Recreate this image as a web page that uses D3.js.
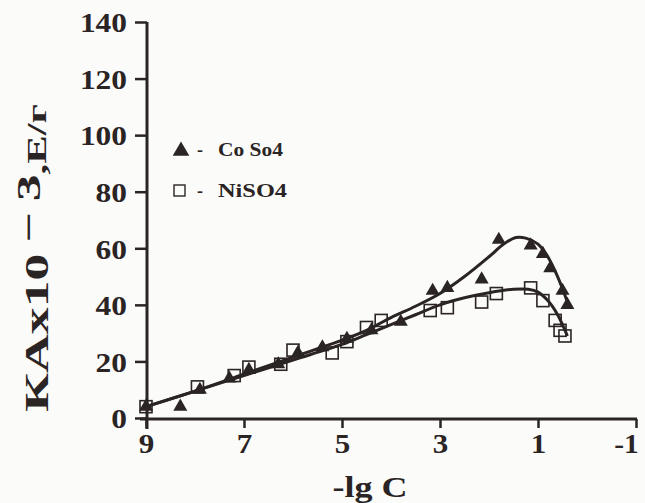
<!DOCTYPE html>
<html><head><meta charset="utf-8">
<script src="https://cdn.jsdelivr.net/npm/d3@7"></script>
<style>
html,body{margin:0;padding:0;background:#fbfbfa;}
svg{display:block;}
text{font-family:"Liberation Serif","Times New Roman",serif;font-weight:bold;fill:#2a2424;}
</style></head>
<body>
<svg id="chart" width="645" height="503"></svg>
<script>
// ---- data ----
const xTicks = [9, 7, 5, 3, 1, -1];
const yTicks = [0, 20, 40, 60, 80, 100, 120, 140];
const seriesNames = ["Co So4", "NiSO4"];

const coX = [9.0, 8.3, 7.9, 7.3, 6.9, 6.3, 5.9, 5.4, 4.9, 4.4, 3.8, 3.15, 2.85, 2.15, 1.8, 1.15, 0.9, 0.75, 0.5, 0.4];
const coY = [4, 4, 10, 14, 17, 19, 23, 25, 28, 31, 34, 45, 46, 49, 63, 61, 58, 53, 45, 40];

const niX = [9.0, 7.95, 7.2, 6.9, 6.25, 6.0, 5.2, 4.9, 4.5, 4.2, 3.2, 2.85, 2.15, 1.85, 1.15, 0.9, 0.65, 0.55, 0.45];
const niY = [4, 11, 15, 18, 19, 24, 23, 27, 32, 34.5, 38, 39, 41, 44, 46, 41.5, 34.5, 31, 29];

const coFitX = [9, 8, 7, 6, 5, 4.5, 4, 3.5, 3, 2.5, 2, 1.7, 1.45, 1.25, 1.0, 0.8, 0.6, 0.4];
const coFitY = [4, 9.5, 15.5, 21.5, 27.5, 31, 35.5, 39.5, 44, 50, 57, 61.5, 63.8, 63.6, 61.5, 57, 50, 41];

const niFitX = [9, 8, 7, 6, 5, 4.5, 4, 3.5, 3, 2.5, 2, 1.5, 1.2, 1.0, 0.8, 0.6, 0.4];
const niFitY = [4, 9.5, 15, 20.5, 26, 29.5, 33, 36.5, 40, 42.5, 44.3, 45.5, 45.5, 44.5, 41.5, 36.5, 29];

// ---- chart ----
const svg = d3.select("#chart");
const ink = "#2a2424";
const x = d3.scaleLinear().domain([9, -1]).range([146, 636]);
const y = d3.scaleLinear().domain([0, 140]).range([418, 22]);

// axes
const xAxis = d3.axisBottom(x).tickValues(xTicks).tickSize(9).tickPadding(6)
  .tickFormat(d => d < 0 ? "-" + Math.abs(d) : d);
const gx = svg.append("g").attr("transform", `translate(0,${y(0)+1})`).call(xAxis);
gx.select(".domain").attr("d", `M${x(9)-6},0H${x(-1)+1}`).attr("stroke", ink).attr("stroke-width", 3);
gx.selectAll(".tick line").attr("stroke", ink).attr("stroke-width", 2.5);
gx.selectAll(".tick text").attr("font-size", 27).style("fill", ink)
  .attr("dx", d => d < 0 ? -10 : 0)
  .attr("textLength", d => String(Math.abs(d)).length * 15.5 + (d < 0 ? 9 : 0))
  .attr("lengthAdjust", "spacingAndGlyphs");

const yAxis = d3.axisLeft(y).tickValues(yTicks).tickSize(12).tickPadding(8);
const gy = svg.append("g").attr("transform", `translate(${x(9)+1},0)`).call(yAxis);
gy.select(".domain").attr("d", `M0,${y(140)}V${y(0)+11}`).attr("stroke", ink).attr("stroke-width", 3);
gy.selectAll(".tick line").attr("stroke", ink).attr("stroke-width", 2.5);
gy.selectAll(".tick text").attr("font-size", 27).style("fill", ink).attr("dy", "0.36em")
  .attr("textLength", d => String(d).length * 15.7)
  .attr("lengthAdjust", "spacingAndGlyphs");

// axis titles
svg.append("text").attr("x", 370).attr("y", 497).attr("text-anchor", "middle")
  .attr("font-size", 29).attr("textLength", 75).attr("lengthAdjust", "spacingAndGlyphs")
  .text("-lg C");

const yt = svg.append("text").attr("transform", "translate(48,258) rotate(-90)")
  .attr("text-anchor", "middle").attr("font-size", 34)
  .attr("textLength", 308).attr("lengthAdjust", "spacingAndGlyphs");
yt.append("tspan").text("КАх10");
yt.append("tspan").attr("dy", -8).text("\u2009\u2212\u20093");
yt.append("tspan").attr("dy", 6).attr("font-size", 27).text(",Е/г");

// fit curves
const line = d3.line().x(d => x(d[0])).y(d => y(d[1])).curve(d3.curveCatmullRom.alpha(0.5));
svg.append("path").datum(coFitX.map((v, i) => [v, coFitY[i]]))
  .attr("d", line).attr("fill", "none").attr("stroke", ink).attr("stroke-width", 3);
svg.append("path").datum(niFitX.map((v, i) => [v, niFitY[i]]))
  .attr("d", line).attr("fill", "none").attr("stroke", ink).attr("stroke-width", 3);

// markers
const tri = d3.symbol().type(d3.symbolTriangle).size(85);
svg.append("g").selectAll("path").data(coX.map((v, i) => [v, coY[i]])).join("path")
  .attr("d", tri).attr("transform", d => `translate(${x(d[0])},${y(d[1])})`)
  .attr("fill", ink);

const sq = 12;
svg.append("g").selectAll("rect").data(niX.map((v, i) => [v, niY[i]])).join("rect")
  .attr("x", d => x(d[0]) - sq / 2).attr("y", d => y(d[1]) - sq / 2)
  .attr("width", sq).attr("height", sq)
  .attr("fill", "none").attr("stroke", ink).attr("stroke-width", 1.6);

// legend
const lg = svg.append("g");
lg.append("path").attr("d", d3.symbol().type(d3.symbolTriangle).size(120))
  .attr("transform", "translate(181,151)").attr("fill", ink);
lg.append("text").attr("x", 197).attr("y", 156).attr("font-size", 18).text("-");
lg.append("text").attr("x", 218).attr("y", 156).attr("font-size", 18)
  .attr("textLength", 65).attr("lengthAdjust", "spacingAndGlyphs").text(seriesNames[0]);
lg.append("rect").attr("x", 174).attr("y", 185).attr("width", 11).attr("height", 11)
  .attr("fill", "none").attr("stroke", ink).attr("stroke-width", 1.4);
lg.append("text").attr("x", 197).attr("y", 197).attr("font-size", 18).text("-");
lg.append("text").attr("x", 218).attr("y", 197).attr("font-size", 18)
  .attr("textLength", 69).attr("lengthAdjust", "spacingAndGlyphs").text(seriesNames[1]);
</script>
</body></html>
